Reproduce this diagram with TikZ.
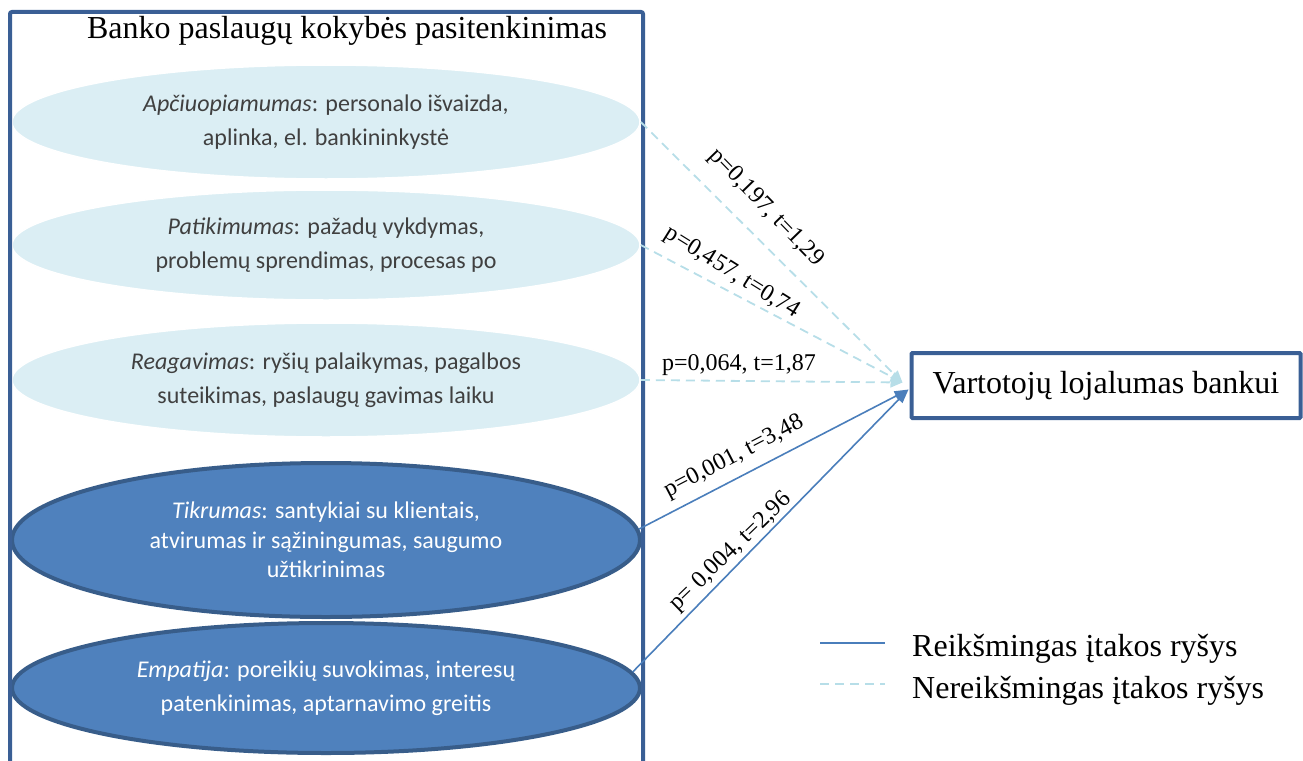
\documentclass[tikz,border=0pt]{standalone}
\usepackage{fontspec}
\setmainfont{Liberation Serif}
\newfontfamily\calfont{Carlito}
\usetikzlibrary{shapes.geometric,arrows.meta,calc}
\definecolor{frameblue}{HTML}{3A5F95}
\definecolor{sigblue}{HTML}{4A7EBB}
\definecolor{darkfill}{HTML}{4F81BD}
\definecolor{darkedge}{HTML}{385D8A}
\definecolor{lightfill}{HTML}{DBEEF4}
\definecolor{weakline}{HTML}{B7DEE8}
\definecolor{bodytext}{HTML}{404040}

\begin{document}
\begin{tikzpicture}[x=1pt,y=-1pt,
  factor/.style={ellipse, minimum width=628pt, inner sep=0pt, align=center,
    font=\calfont\fontsize{24}{34}\selectfont},
  weakfactor/.style={factor, fill=lightfill, draw=white, line width=1.5pt,
    text=bodytext, minimum height=114pt},
  strongfactor/.style={factor, fill=darkfill, draw=darkedge, line width=4pt, text=white},
  strong/.style={draw=sigblue, line width=1.6pt, -{Triangle[length=14pt,width=10pt]}},
  weak/.style={draw=weakline, line width=1.8pt, dash pattern=on 9pt off 6pt,
    -{Triangle[length=12pt,width=10pt]}},
  coef/.style={font=\fontsize{24}{28}\selectfont, inner sep=1pt},
  legendtext/.style={anchor=base west, font=\fontsize{32}{36}\selectfont, inner sep=0pt},
]
\clip (0,0) rectangle (1303,760);
\useasboundingbox (0,0) rectangle (1303,760);

% service quality factors
\node[weakfactor] (e1) at (326,122)
  {\textit{Apčiuopiamumas}: personalo išvaizda,\\ aplinka, el. bankininkystė};
\node[weakfactor, minimum height=110pt] (e2) at (326,245)
  {\textit{Patikimumas}: pažadų vykdymas,\\ problemų sprendimas, procesas po};
\node[weakfactor] (e3) at (326,380)
  {\textit{Reagavimas}: ryšių palaikymas, pagalbos\\ suteikimas, paslaugų gavimas laiku};
\node[strongfactor, minimum height=154pt, font=\calfont\fontsize{24}{29.5}\selectfont] (e4) at (326,540)
  {\textit{Tikrumas}: santykiai su klientais,\\ atvirumas ir sąžiningumas, saugumo\\ užtikrinimas};
\node[strongfactor, minimum height=130pt] (e5) at (326,688)
  {\textit{Empatija}: poreikių suvokimas, interesų\\ patenkinimas, aptarnavimo greitis};

% surrounding frame, open at the bottom
\draw[frameblue, line width=4pt, rounded corners=2pt] (10,775) -- (10,12) -- (643,12) -- (643,775);
\node[anchor=base, font=\fontsize{32}{36}\selectfont, inner sep=0pt] (title) at (347,38)
  {Banko paslaugų kokybės pasitenkinimas};

% outcome
\node[draw=frameblue, line width=4pt, rounded corners=1pt, minimum width=389pt, minimum height=65pt,
  font=\fontsize{32}{36}\selectfont] (t) at (1106,385.5) {Vartotojų lojalumas bankui};

% effects
\coordinate (weakend) at ($(t.west)+(-7,-3)$);
\coordinate (strongend) at ($(t.west)+(-1,4)$);
\draw[weak] (e1.east) -- (weakend);
\draw[weak] (e2.east) -- (weakend);
\draw[weak] (e3.east) -- (weakend);
\draw[strong] (e4.2.4) -- (strongend);
\draw[strong] (e5.3.4) -- (strongend);

\node[coef, rotate=-45.8] (c1) at (766,208) {p=0,197, t=1,29};
\node[coef, rotate=-32] (c2) at (732,273) {p=0,457, t=0,74};
\node[coef] (c3) at (739,365) {p=0,064, t=1,87};
\node[coef, rotate=27.5] (c4) at (734,457) {p=0,001, t=3,48};
\node[coef, rotate=44] (c5) at (731,552) {p= 0,004, t=2,96};

% legend
\coordinate (la) at (820,643);
\coordinate (lb) at (885,643);
\coordinate (lc) at (820,684);
\coordinate (ld) at (885,684);
\draw[draw=sigblue, line width=1.6pt] (la) -- (lb);
\draw[draw=weakline, line width=1.8pt, dash pattern=on 9pt off 6pt] (lc) -- (ld);
\node[legendtext] (lt1) at (912,656) {Reikšmingas įtakos ryšys};
\node[legendtext] (lt2) at (912,698) {Nereikšmingas įtakos ryšys};
\end{tikzpicture}
\end{document}
